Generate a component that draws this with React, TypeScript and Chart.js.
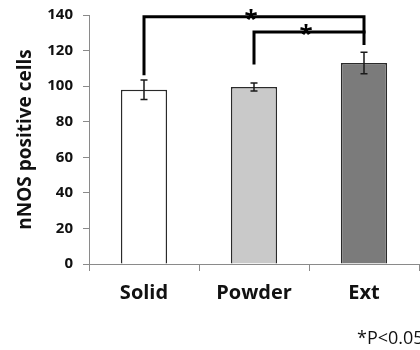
import React, { useEffect, useRef } from "react";
import { Chart, registerables } from "chart.js";

Chart.register(...registerables);

// Group names and mean nNOS positive cell counts with their error half-widths
const categories = ["Solid", "Powder", "Ext"];
const meanValues = [98, 99.5, 113];
const errorValues = [5.5, 2.3, 6];
const barColors = ["#ffffff", "#c9c9c9", "#7b7b7b"];
const yTicks = [0, 20, 40, 60, 80, 100, 120, 140];

// Significance brackets: category indices, bar height and where each leg ends
const bracketFrom = [0, 1];
const bracketTo = [2, 2];
const bracketLevel = [139, 130.5];
const bracketFromLeg = [107, 113];
const bracketToLeg = [124, 130.5];
const footnote = "*P<0.05";

const FONT = "'Open Sans', sans-serif";

const annotations = {
  id: "annotations",
  afterDatasetsDraw(chart: any) {
    const ctx = chart.ctx;
    const x = chart.scales.x;
    const y = chart.scales.y;
    ctx.save();
    // error bars
    ctx.strokeStyle = "#1a1a1a";
    ctx.lineWidth = 1.5;
    meanValues.forEach((v, i) => {
      const cx = x.getPixelForValue(i);
      const top = y.getPixelForValue(v + errorValues[i]);
      const bot = y.getPixelForValue(v - errorValues[i]);
      ctx.beginPath();
      ctx.moveTo(cx, top);
      ctx.lineTo(cx, bot);
      ctx.moveTo(cx - 3.5, top);
      ctx.lineTo(cx + 3.5, top);
      ctx.moveTo(cx - 3.5, bot);
      ctx.lineTo(cx + 3.5, bot);
      ctx.stroke();
    });
    // significance brackets
    ctx.lineWidth = 3;
    ctx.strokeStyle = "#000";
    ctx.lineCap = "square";
    bracketFrom.forEach((f, k) => {
      const x1 = x.getPixelForValue(f);
      const x2 = x.getPixelForValue(bracketTo[k]);
      const yl = y.getPixelForValue(bracketLevel[k]);
      ctx.beginPath();
      ctx.moveTo(x1, y.getPixelForValue(bracketFromLeg[k]));
      ctx.lineTo(x1, yl);
      ctx.lineTo(x2, yl);
      ctx.lineTo(x2, y.getPixelForValue(bracketToLeg[k]));
      ctx.stroke();
      ctx.fillStyle = "#000";
      ctx.font = `bold 24px ${FONT}`;
      ctx.textAlign = "center";
      ctx.textBaseline = "middle";
      ctx.fillText("*", (x1 + x2) / 2 - 3, yl + 3);
    });
    // footnote
    ctx.font = `18px ${FONT}`;
    ctx.textAlign = "left";
    ctx.textBaseline = "middle";
    ctx.fillStyle = "#111";
    ctx.fillText(footnote, 357, 339);
    ctx.restore();
  },
};

export default function App() {
  const ref = useRef<HTMLCanvasElement>(null);
  useEffect(() => {
    const chart = new Chart(ref.current!, {
      type: "bar",
      data: {
        labels: categories,
        datasets: [
          {
            data: meanValues,
            backgroundColor: barColors,
            borderColor: "#2a2a2a",
            borderWidth: 1.5,
            categoryPercentage: 1,
            barPercentage: 0.42,
          },
        ],
      },
      options: {
        animation: false,
        responsive: false,
        layout: { padding: { top: 15, right: 1, left: 0, bottom: 0 } },
        plugins: { legend: { display: false }, tooltip: { enabled: false } },
        scales: {
          x: {
            grid: {
              offset: true,
              drawOnChartArea: false,
              drawTicks: true,
              tickLength: 7,
              color: "#8a8a8a",
            },
            border: { color: "#8a8a8a", width: 1 },
            ticks: {
              color: "#111",
              font: { family: FONT, size: 20, weight: "bold" },
              padding: 10,
            },
            afterFit(s: any) {
              s.height = 86;
            },
          },
          y: {
            min: 0,
            max: 140,
            afterBuildTicks(s: any) {
              s.ticks = yTicks.map((v) => ({ value: v }));
            },
            grid: {
              drawOnChartArea: false,
              drawTicks: true,
              tickLength: 6,
              color: "#8a8a8a",
            },
            border: { color: "#8a8a8a", width: 1 },
            ticks: {
              color: "#111",
              font: { family: FONT, size: 15, weight: "bold" },
              padding: 10,
            },
            title: {
              display: true,
              text: "nNOS positive cells",
              color: "#111",
              font: { family: FONT, size: 19, weight: "bold" },
              padding: { top: 14, bottom: 0 },
            },
            afterFit(s: any) {
              s.width = 89;
              s.paddingTop = 0;
              s.paddingBottom = 0;
            },
          },
        },
      },
      plugins: [annotations],
    });
    return () => chart.destroy();
  }, []);
  return (
    <div style={{ position: "fixed", left: 0, top: 0, width: 420, height: 350, background: "#fff" }}>
      <canvas ref={ref} width={420} height={350} />
    </div>
  );
}
